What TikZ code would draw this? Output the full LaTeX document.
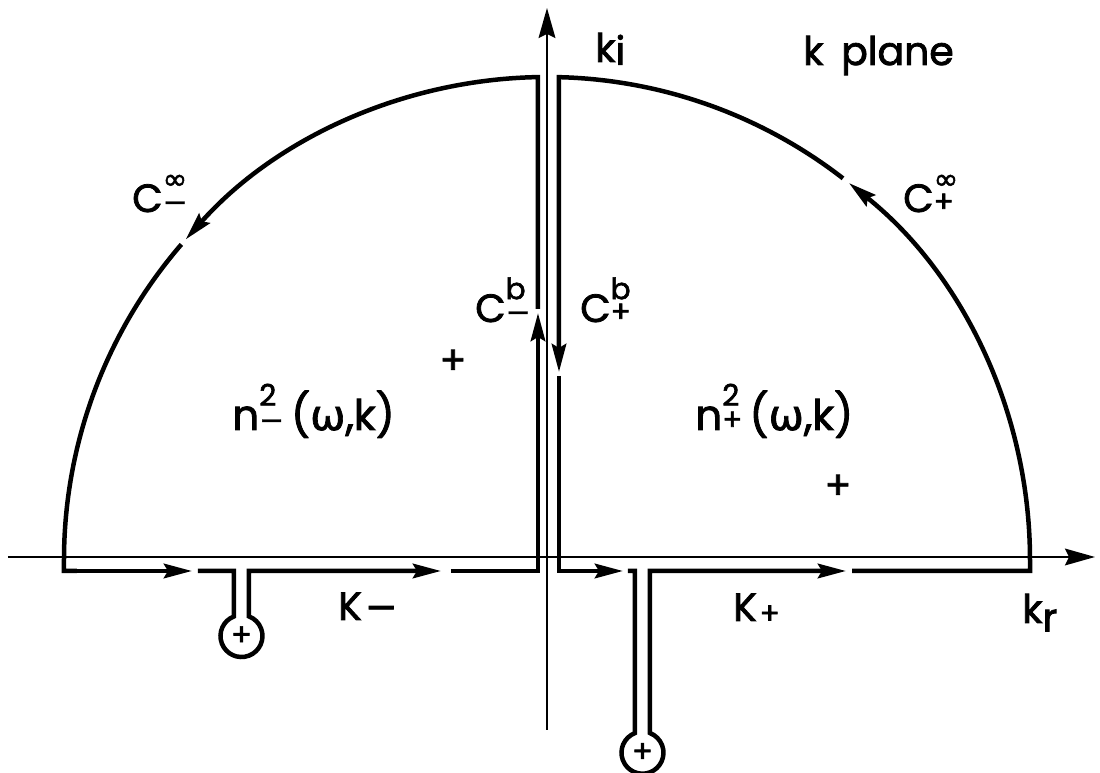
\documentclass[tikz,border=0pt]{standalone}
\usepackage{fontspec}
\setmainfont{Poppins}[FakeBold=2]
\newfontfamily\symfont{DejaVu Sans}[FakeBold=1.5]
\usetikzlibrary{arrows.meta,positioning,calc}

\newcommand{\scr}{\fontsize{21}{21}\selectfont}
\newcommand{\supsub}[2]{\rlap{\raisebox{0.58em}{\scr #1}}{\scr #2}}
\newcommand{\om}{{\symfont ω}}
\newcommand{\infy}{{\symfont ∞}}
\newcommand{\mns}{{\symfont −}}

\begin{document}
\begin{tikzpicture}[
    x=0.025cm, y=0.025cm,
    font=\fontsize{28}{28}\selectfont,
    axis/.style={line width=1.3pt},
    cont/.style={line width=3.2pt, line join=miter},
    arr/.style={-{Stealth[length=7mm, width=3.6mm, inset=1mm]}},
    axarr/.style={-{Stealth[length=7.5mm, width=4.2mm, inset=1mm]}},
    lbl/.style={inner sep=0pt, anchor=base west},
    big/.style={font=\fontsize{30}{30}\selectfont},
    cross/.style={inner sep=0pt}
]
\useasboundingbox (-547,-216) rectangle (553,557);

% axes
\coordinate (O) at (0,0);
\draw[axis, axarr] (-539,0) -- (548,0);
\draw[axis, axarr] (0,-173) -- (0,549);

% left contour
\draw[cont, arr] (-483,-14) -- (-355,-14);
\draw[cont, arr] (-349,-14) -- (-313,-14) -- (-313,-59.4) arc[start angle=110.9, end angle=429.1, radius=21] -- (-298,-14) -- (-106,-14);
\draw[cont, arr] (-96,-14) -- (-9,-14) -- (-9,244);
\draw[cont, arr] (-9,248) -- (-9,479.9) arc[start angle=91.07, end angle=138.4, radius=483];
\draw[cont] ([shift={(0,-3)}]139.2:483) arc[start angle=139.2, end angle=180, radius=483] -- (-483,-14) -- (-470,-14);

% right contour
\draw[cont, arr] (12,-14) -- (76,-14);
\draw[cont, arr] (81,-14) -- (88,-14) -- (88,-176.1) arc[start angle=110.9, end angle=429.1, radius=21] -- (103,-14) -- (299,-14);
\draw[cont, arr] (305,-14) -- (483,-14) -- (483,-3) arc[start angle=0, end angle=51.3, radius=483];
\draw[cont, arr] ([shift={(0,-3)}]52.2:483) arc[start angle=52.2, end angle=88.58, radius=483] -- (12,185);
\draw[cont] (12,181) -- (12,-14) -- (30,-14);

% poles and zeros
\node[cross, font=\fontsize{22}{22}\selectfont] (polem) at (-305.5,-79) {+};
\node[cross, font=\fontsize{22}{22}\selectfont] (polep) at (95.5,-195.7) {+};
\node[cross] (zm) at (-94,195) {+};
\node[cross] (zp) at (291,70) {+};

% labels
\node[lbl] (ki) at (48,495) {k\raisebox{-2pt}{i}};
\node[lbl] (kplane) at (256,492) {k\hspace{0.45em}plane};
\node[lbl] (kr) at (475,-66) {k\raisebox{-6pt}{r}};
\node[lbl] (Kminus) at (-209,-63) {K\hspace{2pt}\mns};
\node[lbl] (Kplus) at (186,-64) {K\hspace{2pt}\raisebox{-2pt}{\scr +}};
\node[lbl] (Cinfm) at (-415,345) {C\supsub{\infy}{\mns}};
\node[lbl] (Cinfp) at (356,345) {C\supsub{\infy}{+}};
\node[lbl] (Cbm) at (-72,235) {C\supsub{b}{\mns}};
\node[lbl] (Cbp) at (33,235) {C\supsub{b}{+}};
\node[lbl, big] (nminus) at (-315,127) {n\supsub{2}{\mns}\,(\om,k)};
\node[lbl, big] (nplus) at (148,127) {n\supsub{2}{+}\,(\om,k)};

\end{tikzpicture}
\end{document}
